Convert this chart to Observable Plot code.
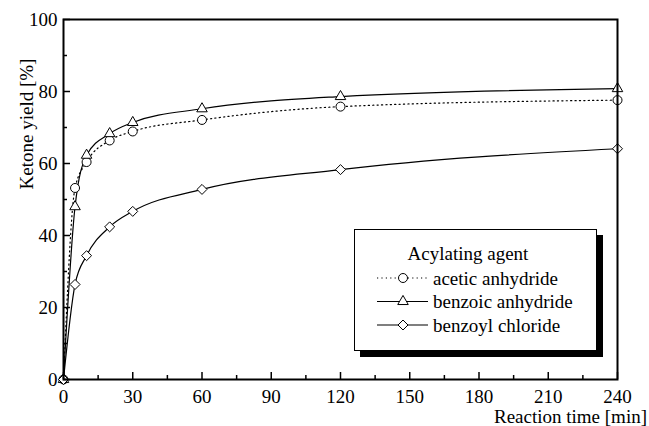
<!DOCTYPE html>
<html>
<head>
<meta charset="utf-8">
<script src="https://cdn.jsdelivr.net/npm/d3@7"></script>
<script src="https://cdn.jsdelivr.net/npm/@observablehq/plot@0.6"></script>
<style>
  html, body { margin: 0; padding: 0; background: #fff; }
  #chart svg { display: block; }
  #chart svg, #chart svg text { font-family: "Liberation Serif", "Times New Roman", Times, "DejaVu Serif", serif !important; }
</style>
</head>
<body>
<div id="chart"></div>
<script>
const time = [0, 5, 10, 20, 30, 60, 120, 240];
const aceticAnhydride = [0, 53.2, 60.4, 66.4, 68.9, 72.1, 75.8, 77.6];
const benzoicAnhydride = [0, 48, 62.3, 68.3, 71.4, 75.2, 78.6, 80.8];
const benzoylChloride = [0, 26.4, 34.4, 42.4, 46.7, 52.8, 58.3, 64.1];
const seriesNames = ["acetic anhydride", "benzoic anhydride", "benzoyl chloride"];
const legendTitle = "Acylating agent";
const xTicks = [0, 30, 60, 90, 120, 150, 180, 210, 240];
const xMinorTicks = [15, 45, 75, 105, 135, 165, 195, 225];
const yTicks = [0, 20, 40, 60, 80, 100];
const yMinorTicks = [10, 30, 50, 70, 90];
const xTitle = "Reaction time [min]";
const yTitle = "Ketone yield [%]";

const styles = [
  {symbol: "circle", r: 4.5, dash: "1.2,3.2"},
  {symbol: "triangle", r: 3.9, dash: null},
  {symbol: "diamond2", r: 4.5, dash: null}
];
const values = [aceticAnhydride, benzoicAnhydride, benzoylChloride];
const rows = values.map((vs, s) => vs.map((v, i) => ({t: time[i], y: v, s})));

const W = 649, H = 426;

const marks = [];
rows.forEach((d, s) => {
  marks.push(Plot.line(d, {x: "t", y: "y", curve: "monotone-x", stroke: "black", strokeWidth: 1.2, strokeDasharray: styles[s].dash}));
});
rows.forEach((d, s) => {
  marks.push(Plot.dot(d, {x: "t", y: "y", symbol: () => styles[s].symbol, r: styles[s].r, fill: "white", stroke: "black", strokeWidth: 1}));
});

const plot = Plot.plot({
  width: W,
  height: H,
  marginLeft: 63,
  marginRight: 32,
  marginTop: 19,
  marginBottom: 47,
  style: {fontSize: "19px", background: "white", color: "black"},
  x: {domain: [0, 240]},
  y: {domain: [0, 100]},
  symbol: {type: "identity"},
  marks: [
    ...marks,
    Plot.axisX({ticks: xTicks, tickSize: -7, tickPadding: 17, label: null, fontSize: 19, strokeWidth: 1.5}),
    Plot.axisX({ticks: xMinorTicks, tickSize: -4, tickFormat: () => "", label: null, strokeWidth: 1.5}),
    Plot.axisY({ticks: yTicks, tickSize: -7, tickPadding: 13, label: null, fontSize: 19, strokeWidth: 1.5}),
    Plot.axisY({ticks: yMinorTicks, tickSize: -4, tickFormat: () => "", label: null, strokeWidth: 1.5}),
    Plot.frame({stroke: "black", strokeWidth: 2})
  ]
});
document.getElementById("chart").appendChild(plot);

// titles and legend
const svg = d3.select(plot);
svg.append("text")
  .attr("x", 647).attr("y", 423)
  .attr("text-anchor", "end")
  .attr("font-size", 19).attr("fill", "black")
  .text(xTitle);
svg.append("text")
  .attr("transform", "translate(33,124) rotate(-90)")
  .attr("text-anchor", "middle")
  .attr("font-size", 19).attr("fill", "black")
  .text(yTitle);

const lg = svg.append("g");
lg.append("rect").attr("x", 360).attr("y", 235).attr("width", 243).attr("height", 122).attr("fill", "black");
lg.append("rect").attr("x", 354.5).attr("y", 229.5).attr("width", 242).attr("height", 121)
  .attr("fill", "white").attr("stroke", "black").attr("stroke-width", 1);
lg.append("text").attr("x", 468).attr("y", 260).attr("text-anchor", "middle")
  .attr("font-size", 19).attr("fill", "black").text(legendTitle);
const rowY = [278, 301.5, 325];
const symMap = {circle: d3.symbolCircle, triangle: d3.symbolTriangle, diamond2: d3.symbolDiamond2 || d3.symbolSquare};
seriesNames.forEach((name, i) => {
  const y = rowY[i];
  lg.append("line").attr("x1", 377).attr("x2", 428).attr("y1", y).attr("y2", y)
    .attr("stroke", "black").attr("stroke-width", 1.2)
    .attr("stroke-dasharray", styles[i].dash);
  lg.append("path")
    .attr("d", d3.symbol(symMap[styles[i].symbol], Math.PI * styles[i].r * styles[i].r)())
    .attr("transform", `translate(403,${y})`)
    .attr("fill", "white").attr("stroke", "black").attr("stroke-width", 1);
  lg.append("text").attr("x", 433).attr("y", y + 6.5)
    .attr("text-anchor", "start")
    .attr("font-size", 19).attr("fill", "black").text(name);
});
</script>
</body>
</html>
